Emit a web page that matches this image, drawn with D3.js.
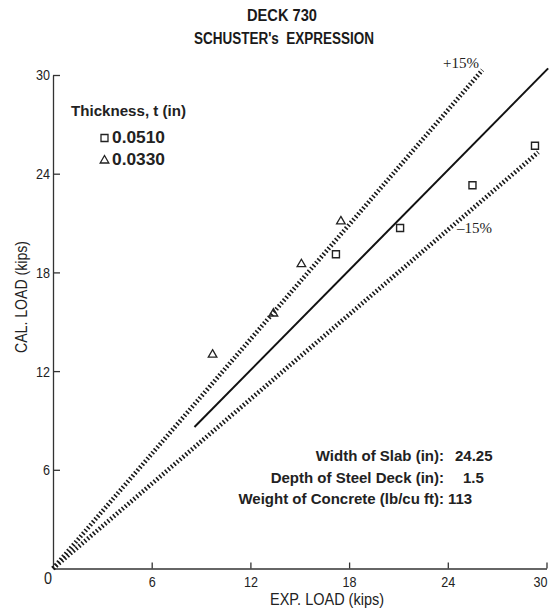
<!DOCTYPE html>
<html>
<head>
<meta charset="utf-8">
<script src="https://cdn.jsdelivr.net/npm/d3@7"></script>
<style>
  body { margin: 0; background: #fff; }
  svg { display: block; background: #fff; }
  .narrow { font-family: "Liberation Sans", Arial, sans-serif; }
  .bold { font-family: "Liberation Sans", Arial, sans-serif; font-weight: bold; }
  .serif { font-family: "Liberation Serif", serif; }
</style>
</head>
<body>
<div id="chart"></div>
<script>
// values (kips)
const squareX = [17.2, 21.1, 25.5, 29.3];
const squareY = [19.1, 20.7, 23.3, 25.7];
const triangleX = [9.7, 13.4, 15.1, 17.5];
const triangleY = [13.0, 15.5, 18.5, 21.1];

const meanLineX = [8.6, 30.1];
const meanLineY = [8.6, 30.4];
const plusLineX = [0, 26.1];
const plusLineY = [0, 30.3];
const minusLineX = [0, 29.5];
const minusLineY = [0, 25.3];

const xTicks = [6, 12, 18, 24, 30];
const yTicks = [6, 12, 18, 24, 30];

const legendLabels = ["0.0510", "0.0330"];
const infoLabels = ["Width of Slab (in):", "Depth of Steel Deck (in):", "Weight of Concrete (lb/cu ft):"];
const infoValues = ["24.25", "1.5", "113"];

const width = 550, height = 614;

const svg = d3.select("#chart").append("svg")
  .attr("width", width)
  .attr("height", height);

const x = d3.scaleLinear().domain([0, 30]).range([53, 546.5]);
const y = d3.scaleLinear().domain([0, 30]).range([568.5, 75]);

// squeeze text to the condensed look of the scan
function condensed(sel, len) {
  return sel.attr("textLength", len).attr("lengthAdjust", "spacingAndGlyphs");
}

// title
svg.append("text").attr("class", "bold")
  .attr("x", 282).attr("y", 21)
  .attr("text-anchor", "middle")
  .attr("fill", "#1a1a1a")
  .style("font-size", "16px")
  .text("DECK 730")
  .call(condensed, 70);
svg.append("text").attr("class", "bold")
  .attr("x", 284).attr("y", 43.5)
  .attr("text-anchor", "middle")
  .attr("fill", "#1a1a1a")
  .style("font-size", "16px")
  .style("white-space", "pre")
  .text("SCHUSTER's  EXPRESSION")
  .call(condensed, 180);

// axes
const yAxis = svg.append("g")
  .attr("transform", `translate(${x(0)},0)`)
  .call(d3.axisLeft(y).tickValues(yTicks).tickSize(-7).tickSizeOuter(0).tickPadding(3));
const xAxis = svg.append("g")
  .attr("transform", `translate(0,${y(0)})`)
  .call(d3.axisBottom(x).tickValues(xTicks).tickSize(-6).tickSizeOuter(0).tickPadding(7));

[xAxis, yAxis].forEach(ax => {
  ax.selectAll("path, line").attr("stroke", "#333").attr("stroke-width", 1.3);
  ax.selectAll("text")
    .attr("class", "narrow")
    .attr("fill", "#222")
    .style("font-size", "15.5px")
    .attr("textLength", d => d >= 10 ? 14 : 7)
    .attr("lengthAdjust", "spacingAndGlyphs");
});
// last x label sits against the right edge, as in the scan
xAxis.selectAll(".tick text").filter(d => d === 30)
  .attr("text-anchor", "start")
  .attr("x", 533 - x(30));

svg.append("text").attr("class", "narrow")
  .attr("x", x(0) - 5).attr("y", 584)
  .attr("text-anchor", "middle")
  .attr("fill", "#222")
  .style("font-size", "16px")
  .text("0")
  .call(condensed, 8);

// axis titles
svg.append("text").attr("class", "narrow")
  .attr("x", 327).attr("y", 605)
  .attr("text-anchor", "middle")
  .attr("fill", "#222")
  .style("font-size", "16px")
  .text("EXP. LOAD (kips)")
  .call(condensed, 114);
svg.append("text").attr("class", "narrow")
  .attr("transform", "translate(27,297) rotate(-90)")
  .attr("text-anchor", "middle")
  .attr("fill", "#222")
  .style("font-size", "16px")
  .text("CAL. LOAD (kips)")
  .call(condensed, 112);

// reference lines
const line = d3.line().x(d => x(d[0])).y(d => y(d[1]));
const hatched = [[plusLineX, plusLineY], [minusLineX, minusLineY]];
hatched.forEach(([xs, ys]) => {
  svg.append("path")
    .attr("d", line(d3.zip(xs, ys)))
    .attr("fill", "none")
    .attr("stroke", "#1a1a1a")
    .attr("stroke-width", 4.5)
    .attr("stroke-dasharray", "1.6,2.2");
});
svg.append("path")
  .attr("d", line(d3.zip(meanLineX, meanLineY)))
  .attr("fill", "none")
  .attr("stroke", "#111")
  .attr("stroke-width", 2);

svg.append("text").attr("class", "serif")
  .attr("x", 443).attr("y", 68)
  .attr("fill", "#222")
  .style("font-size", "15px")
  .text("+15%");
svg.append("text").attr("class", "serif")
  .attr("x", 457).attr("y", 233)
  .attr("fill", "#222")
  .style("font-size", "15px")
  .text("\u201315%");

// markers
const squareSym = d3.symbol().type(d3.symbolSquare).size(49);
const triangleSym = d3.symbol().type(d3.symbolTriangle).size(32);

svg.selectAll(".sq")
  .data(d3.zip(squareX, squareY))
  .join("path")
  .attr("class", "sq")
  .attr("d", squareSym)
  .attr("transform", d => `translate(${x(d[0])},${y(d[1])})`)
  .attr("fill", "#fff")
  .attr("stroke", "#222")
  .attr("stroke-width", 1.4);

svg.selectAll(".tri")
  .data(d3.zip(triangleX, triangleY))
  .join("path")
  .attr("class", "tri")
  .attr("d", triangleSym)
  .attr("transform", d => `translate(${x(d[0])},${y(d[1])})`)
  .attr("fill", "none")
  .attr("stroke", "#222")
  .attr("stroke-width", 1.3);

// legend
const legend = svg.append("g");
legend.append("text").attr("class", "bold")
  .attr("x", 71).attr("y", 116)
  .attr("fill", "#222")
  .style("font-size", "15.5px")
  .text("Thickness, t (in)")
  .call(condensed, 115);
const legendSyms = [squareSym, triangleSym];
legendLabels.forEach((label, i) => {
  const cy = 138 + i * 21.5;
  legend.append("path")
    .attr("d", legendSyms[i])
    .attr("transform", `translate(104.5,${cy + (i ? 1 : 0)})`)
    .attr("fill", "none")
    .attr("stroke", "#222")
    .attr("stroke-width", 1.3);
  legend.append("text").attr("class", "bold")
    .attr("x", 112).attr("y", cy + 5)
    .attr("fill", "#222")
    .style("font-size", "16px")
    .text(label)
    .call(condensed, 53);
});

// slab info
const valueX = [455, 463, 448];
infoLabels.forEach((label, i) => {
  const by = 461 + i * 21.5;
  svg.append("text").attr("class", "bold")
    .attr("x", 444).attr("y", by)
    .attr("text-anchor", "end")
    .attr("fill", "#222")
    .style("font-size", "15px")
    .text(label);
  svg.append("text").attr("class", "bold")
    .attr("x", valueX[i]).attr("y", by)
    .attr("fill", "#222")
    .style("font-size", "15px")
    .text(infoValues[i]);
});
</script>
</body>
</html>
